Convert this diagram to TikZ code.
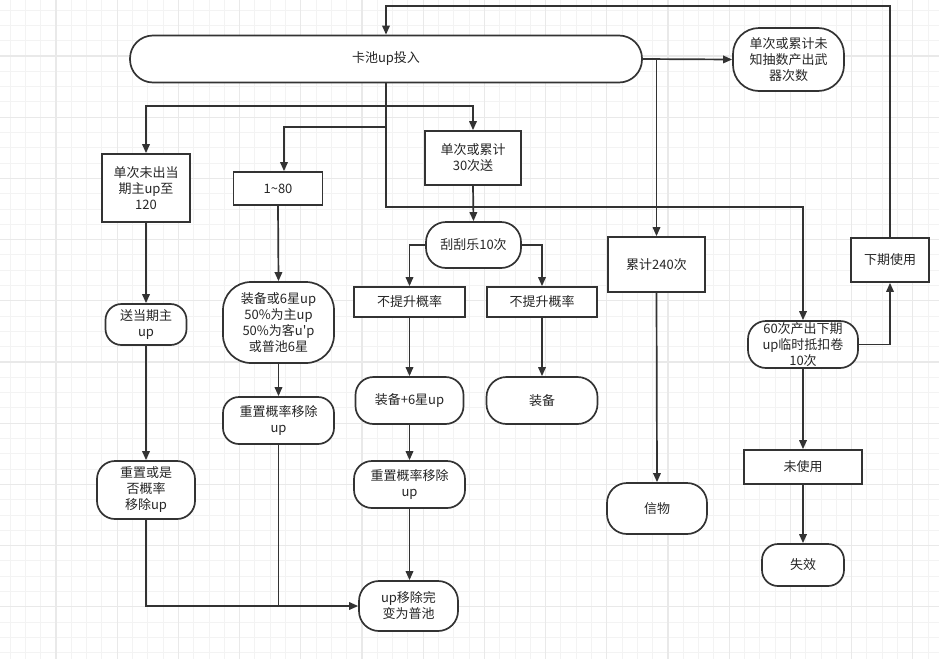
\documentclass[tikz,border=0pt]{standalone}
\usepackage{fontspec}
\newfontfamily\cjk{Noto Sans CJK SC}
\usetikzlibrary{arrows.meta}
\definecolor{ln}{HTML}{333333}
\definecolor{tx}{HTML}{262626}
\definecolor{gmin}{HTML}{F3F3F3}
\definecolor{gmaj}{HTML}{E9E9E9}
\tikzset{
  base/.style={draw=ln, line width=1.7pt, fill=white, text=tx, inner sep=0pt, align=center,
    font=\cjk\fontsize{13}{16}\selectfont},
  sbox/.style={base},
  rbox/.style={base, rounded corners=16pt},
  conn/.style={draw=ln, line width=1.7pt},
  arr/.style={conn, -{Triangle[length=9pt,width=7.5pt]}},
  gridminor/.style={draw=gmin, line width=0.9pt},
  gridmajor/.style={draw=gmaj, line width=1.1pt},
}
\begin{document}
\begin{tikzpicture}[x=1pt,y=-1pt]
\useasboundingbox (0,0) rectangle (939,659);
\fill[white] (0,0) rectangle (939,659);
% grid
\foreach \i in {0,...,61} {
  \draw[gridminor] ({10.1+15.3*\i},0) -- ++(0,659);
}
\foreach \i in {0,...,43} {
  \draw[gridminor] (0,{10.1+15.3*\i}) -- ++(939,0);
}
\foreach \i in {0,...,14} {
  \draw[gridmajor] ({56+61.2*\i},0) -- ++(0,659);
}
\foreach \i in {0,...,10} {
  \draw[gridmajor] (0,{56+61.2*\i}) -- ++(939,0);
}

% nodes
\node[rbox, rounded corners=23pt, minimum width=512pt, minimum height=47pt] (main) at (386,59) {卡池up投入};
\node[rbox, rounded corners=26pt, minimum width=111pt, minimum height=63pt] (weapon) at (788.5,59.5) {单次或累计未\\知抽数产出武\\器次数};
\node[sbox, minimum width=88pt, minimum height=68pt] (n120) at (146,188) {单次未出当\\期主up至\\120};
\node[sbox, minimum width=89pt, minimum height=33pt] (n180) at (278,188.5) {1\string~80};
\node[sbox, minimum width=96pt, minimum height=54pt] (n30) at (473,158) {单次或累计\\30次送};
\node[rbox, rounded corners=20pt, minimum width=95pt, minimum height=46pt] (gua) at (473.5,245) {刮刮乐10次};
\node[sbox, minimum width=111pt, minimum height=30pt] (bt1) at (409.5,302) {不提升概率};
\node[sbox, minimum width=110pt, minimum height=30pt] (bt2) at (542,302) {不提升概率};
\node[rbox, rounded corners=18pt, minimum width=108pt, minimum height=47pt] (zb6) at (409.5,400.5) {装备+6星up};
\node[rbox, rounded corners=20pt, minimum width=111pt, minimum height=47pt] (zb) at (542,400.5) {装备};
\node[rbox, rounded corners=16pt, minimum width=81pt, minimum height=41pt] (song) at (146,324.5) {送当期主\\up};
\node[rbox, rounded corners=28pt, minimum width=111pt, minimum height=81pt] (zhuang) at (278.5,322.5) {装备或6星up\\50\%为主up\\50\%为客u'p\\或普池6星};
\node[rbox, rounded corners=16pt, minimum width=111pt, minimum height=47pt] (reset1) at (278.5,420.5) {重置概率移除\\up};
\node[rbox, rounded corners=18pt, minimum width=98pt, minimum height=58pt] (resetq) at (146,490) {重置或是\\否概率\\移除up};
\node[rbox, rounded corners=18pt, minimum width=111pt, minimum height=47pt] (reset2) at (409.5,484.5) {重置概率移除\\up};
\node[rbox, rounded corners=20pt, minimum width=99pt, minimum height=50pt] (pool) at (408.5,606) {up移除完\\变为普池};
\node[sbox, minimum width=97pt, minimum height=55pt] (lei240) at (656.5,264.5) {累计240次};
\node[rbox, rounded corners=20pt, minimum width=100pt, minimum height=51pt] (xinwu) at (657,508.5) {信物};
\node[rbox, rounded corners=18pt, minimum width=110pt, minimum height=47pt] (sixty) at (803,344.5) {60次产出下期\\up临时抵扣卷\\10次};
\node[sbox, minimum width=78pt, minimum height=44pt] (xiaqi) at (890,260) {下期使用};
\node[sbox, minimum width=118pt, minimum height=34pt] (weishi) at (803,467) {未使用};
\node[rbox, rounded corners=16pt, minimum width=82pt, minimum height=42pt] (shixiao) at (803,565) {失效};

% junctions
\coordinate (j1) at (386,106);
\coordinate (j2) at (386,127);
\coordinate (j3) at (386,207);
\coordinate (top) at (386,6);

% connectors
\draw[arr] (main.east) -- (weapon.west);
\draw[arr] (lei240.north |- main.east) -- (lei240.north);
\draw[arr] (main.south) -- (j1) -| (n120.north);
\draw[arr] (j1) -| (n30.north);
\draw[arr] (j2) -| ([xshift=6pt]n180.north);
\draw[arr] (j1) -- (j3) -| (sixty.north);
\draw[arr] (n30.south) -- (gua.north);
\draw[arr] (gua.west) -| (bt1.north);
\draw[arr] (gua.east) -| (bt2.north);
\draw[arr] (bt1.south) -- (zb6.north);
\draw[arr] (bt2.south) -- (zb.north);
\draw[arr] (zb6.south) -- (reset2.north);
\draw[arr] (reset2.south) -- (pool.north -| reset2.south);
\draw[arr] (n120.south) -- (song.north);
\draw[arr] (song.south) -- (resetq.north);
\draw[arr] (n180.south) -- (zhuang.north);
\draw[arr] (zhuang.south) -- (reset1.north);
\draw[arr] (resetq.south) |- (pool.west);
\draw[conn] (reset1.south) -- (reset1.south |- pool.west);
\draw[arr] (lei240.south) -- (xinwu.north);
\draw[arr] (sixty.east) -| (xiaqi.south);
\draw[arr] (xiaqi.north) |- (top) -- (main.north);
\draw[arr] (sixty.south) -- (weishi.north);
\draw[arr] (weishi.south) -- (shixiao.north);
\end{tikzpicture}
\end{document}
